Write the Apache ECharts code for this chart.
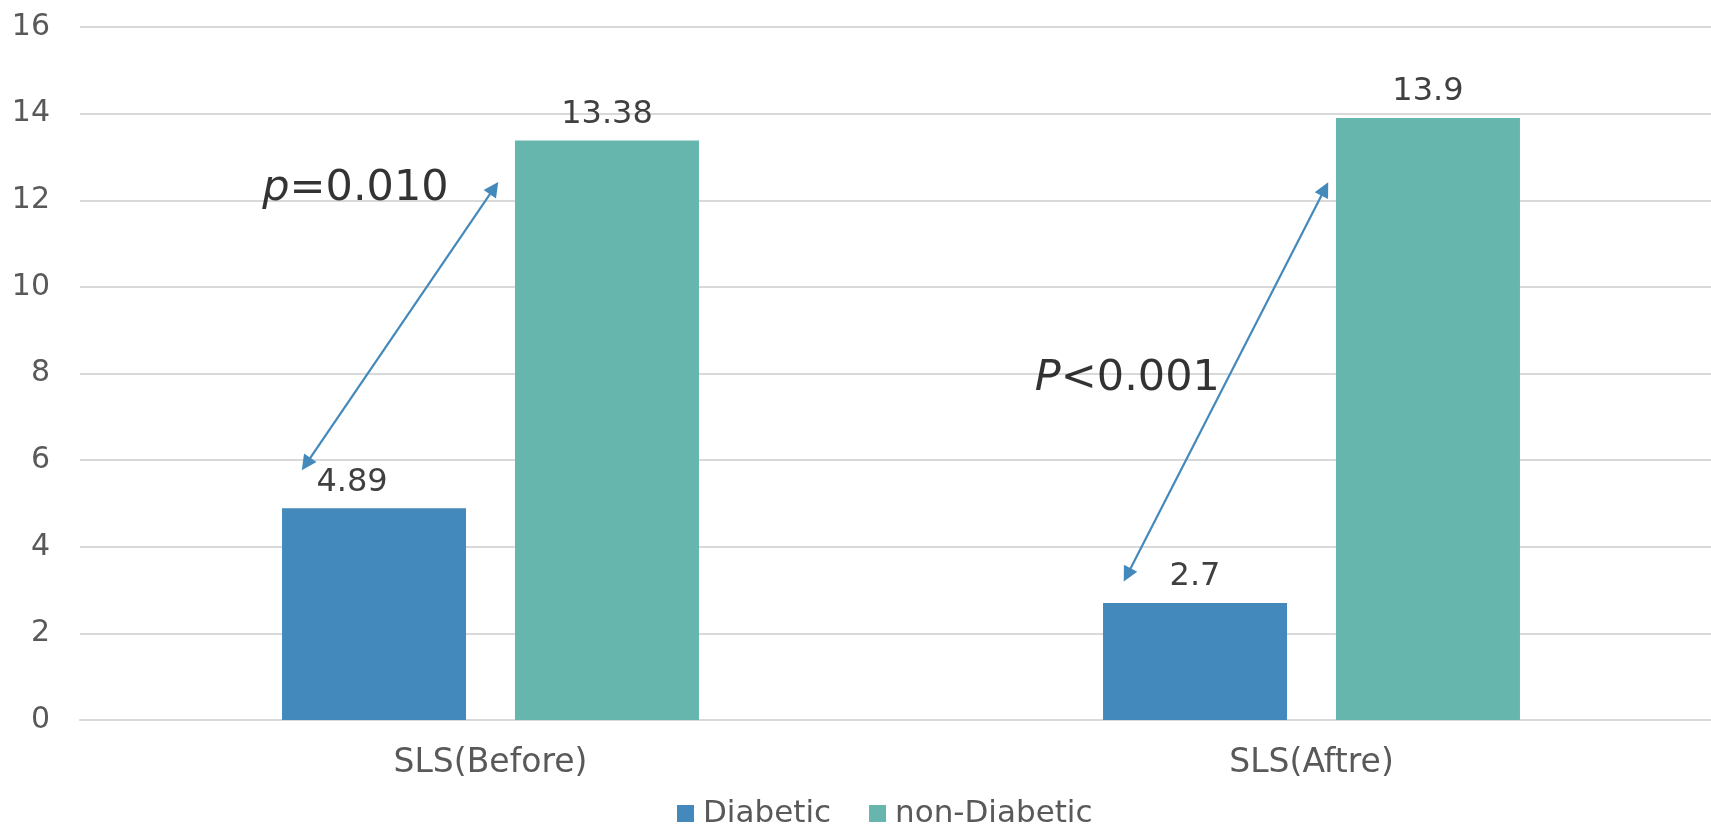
<!DOCTYPE html>
<html>
<head>
<meta charset="utf-8">
<script src="https://cdn.jsdelivr.net/npm/echarts@6/dist/echarts.min.js"></script>
<style>
  html, body { margin: 0; padding: 0; background: #fff; }
  #chart { width: 1711px; height: 827px; }
</style>
</head>
<body>
<div id="chart"></div>
<script>
// SLS scores by group, before and after
const categories = ['SLS(Before)', 'SLS(Aftre)'];
const diabetic = [4.89, 2.7];
const nonDiabetic = [13.38, 13.9];
const yMin = 0, yMax = 16, yStep = 2;

// Significance annotations, placed on a hidden 0..2 value axis (one unit per category)
const arrowEnds = [
  [[0.2753, 5.91], [0.5043, 12.28]],
  [[1.2755, 3.35], [1.5162, 12.26]]
];
const pTexts = [
  { at: [0.222, 12.26], sym: 'p', rest: '=0.010' },
  { at: [1.163, 7.88], sym: 'P', rest: '<0.001' }
];

const FONT = 'DejaVu Sans';
const BLUE = '#4389bc';
const TEAL = '#66b6ad';

const valueLabel = {
  show: true, position: 'top', distance: 10,
  fontFamily: FONT, fontSize: 32, color: '#404040'
};

const chart = echarts.init(document.getElementById('chart'), null, { renderer: 'canvas' });

chart.setOption({
  animation: false,
  backgroundColor: '#ffffff',
  textStyle: { fontFamily: FONT },
  grid: { left: 80, top: 27, width: 1642, height: 693, containLabel: false, outerBoundsMode: 'none' },
  legend: {
    data: ['Diabetic', 'non-Diabetic'],
    left: 677,
    top: 798,
    padding: 0,
    itemWidth: 17,
    itemHeight: 17,
    itemGap: 38,
    icon: 'rect',
    textStyle: { fontFamily: FONT, fontSize: 31, color: '#595959', padding: [0, 0, 0, 4] },
    selectedMode: false
  },
  xAxis: [
    {
      type: 'category',
      data: categories,
      axisLine: { show: true, lineStyle: { color: '#d9d9d9', width: 2 } },
      axisTick: { show: false },
      axisLabel: { fontFamily: FONT, fontSize: 33, color: '#595959', margin: 27 }
    },
    {
      type: 'value',
      min: 0, max: 2,
      show: false
    }
  ],
  yAxis: {
    type: 'value',
    min: yMin, max: yMax, interval: yStep,
    axisLine: { show: false },
    axisTick: { show: false },
    axisLabel: { fontFamily: FONT, fontSize: 30, color: '#595959', margin: 30 },
    splitLine: { lineStyle: { color: '#d9d9d9', width: 2 } }
  },
  series: [
    {
      name: 'Diabetic',
      type: 'bar',
      xAxisIndex: 0,
      data: diabetic.map((v, i) => i === 0
        ? { value: v, label: { offset: [-22, 0] } }
        : v),
      barWidth: 184,
      barGap: '26.6%',
      itemStyle: { color: BLUE },
      label: valueLabel
    },
    {
      name: 'non-Diabetic',
      type: 'bar',
      xAxisIndex: 0,
      data: nonDiabetic,
      barWidth: 184,
      barGap: '26.6%',
      itemStyle: { color: TEAL },
      label: valueLabel
    },
    {
      name: 'annotations',
      type: 'scatter',
      xAxisIndex: 1,
      yAxisIndex: 0,
      symbolSize: 0,
      silent: true,
      data: pTexts.map(t => ({ value: t.at, sym: t.sym, rest: t.rest })),
      label: {
        show: true,
        position: 'right',
        distance: 0,
        fontFamily: FONT,
        fontSize: 43,
        color: '#000000',
        formatter: p => '{i|' + p.data.sym + '}' + p.data.rest,
        rich: { i: { fontFamily: FONT, fontSize: 43, fontStyle: 'italic', color: '#000000' } }
      },
      markLine: {
        silent: true,
        symbol: ['triangle', 'triangle'],
        symbolSize: 15,
        label: { show: false },
        lineStyle: { color: BLUE, width: 2.2, type: 'solid' },
        data: arrowEnds.map(([a, b]) => [{ coord: a }, { coord: b }])
      }
    }
  ]
});
</script>
</body>
</html>
